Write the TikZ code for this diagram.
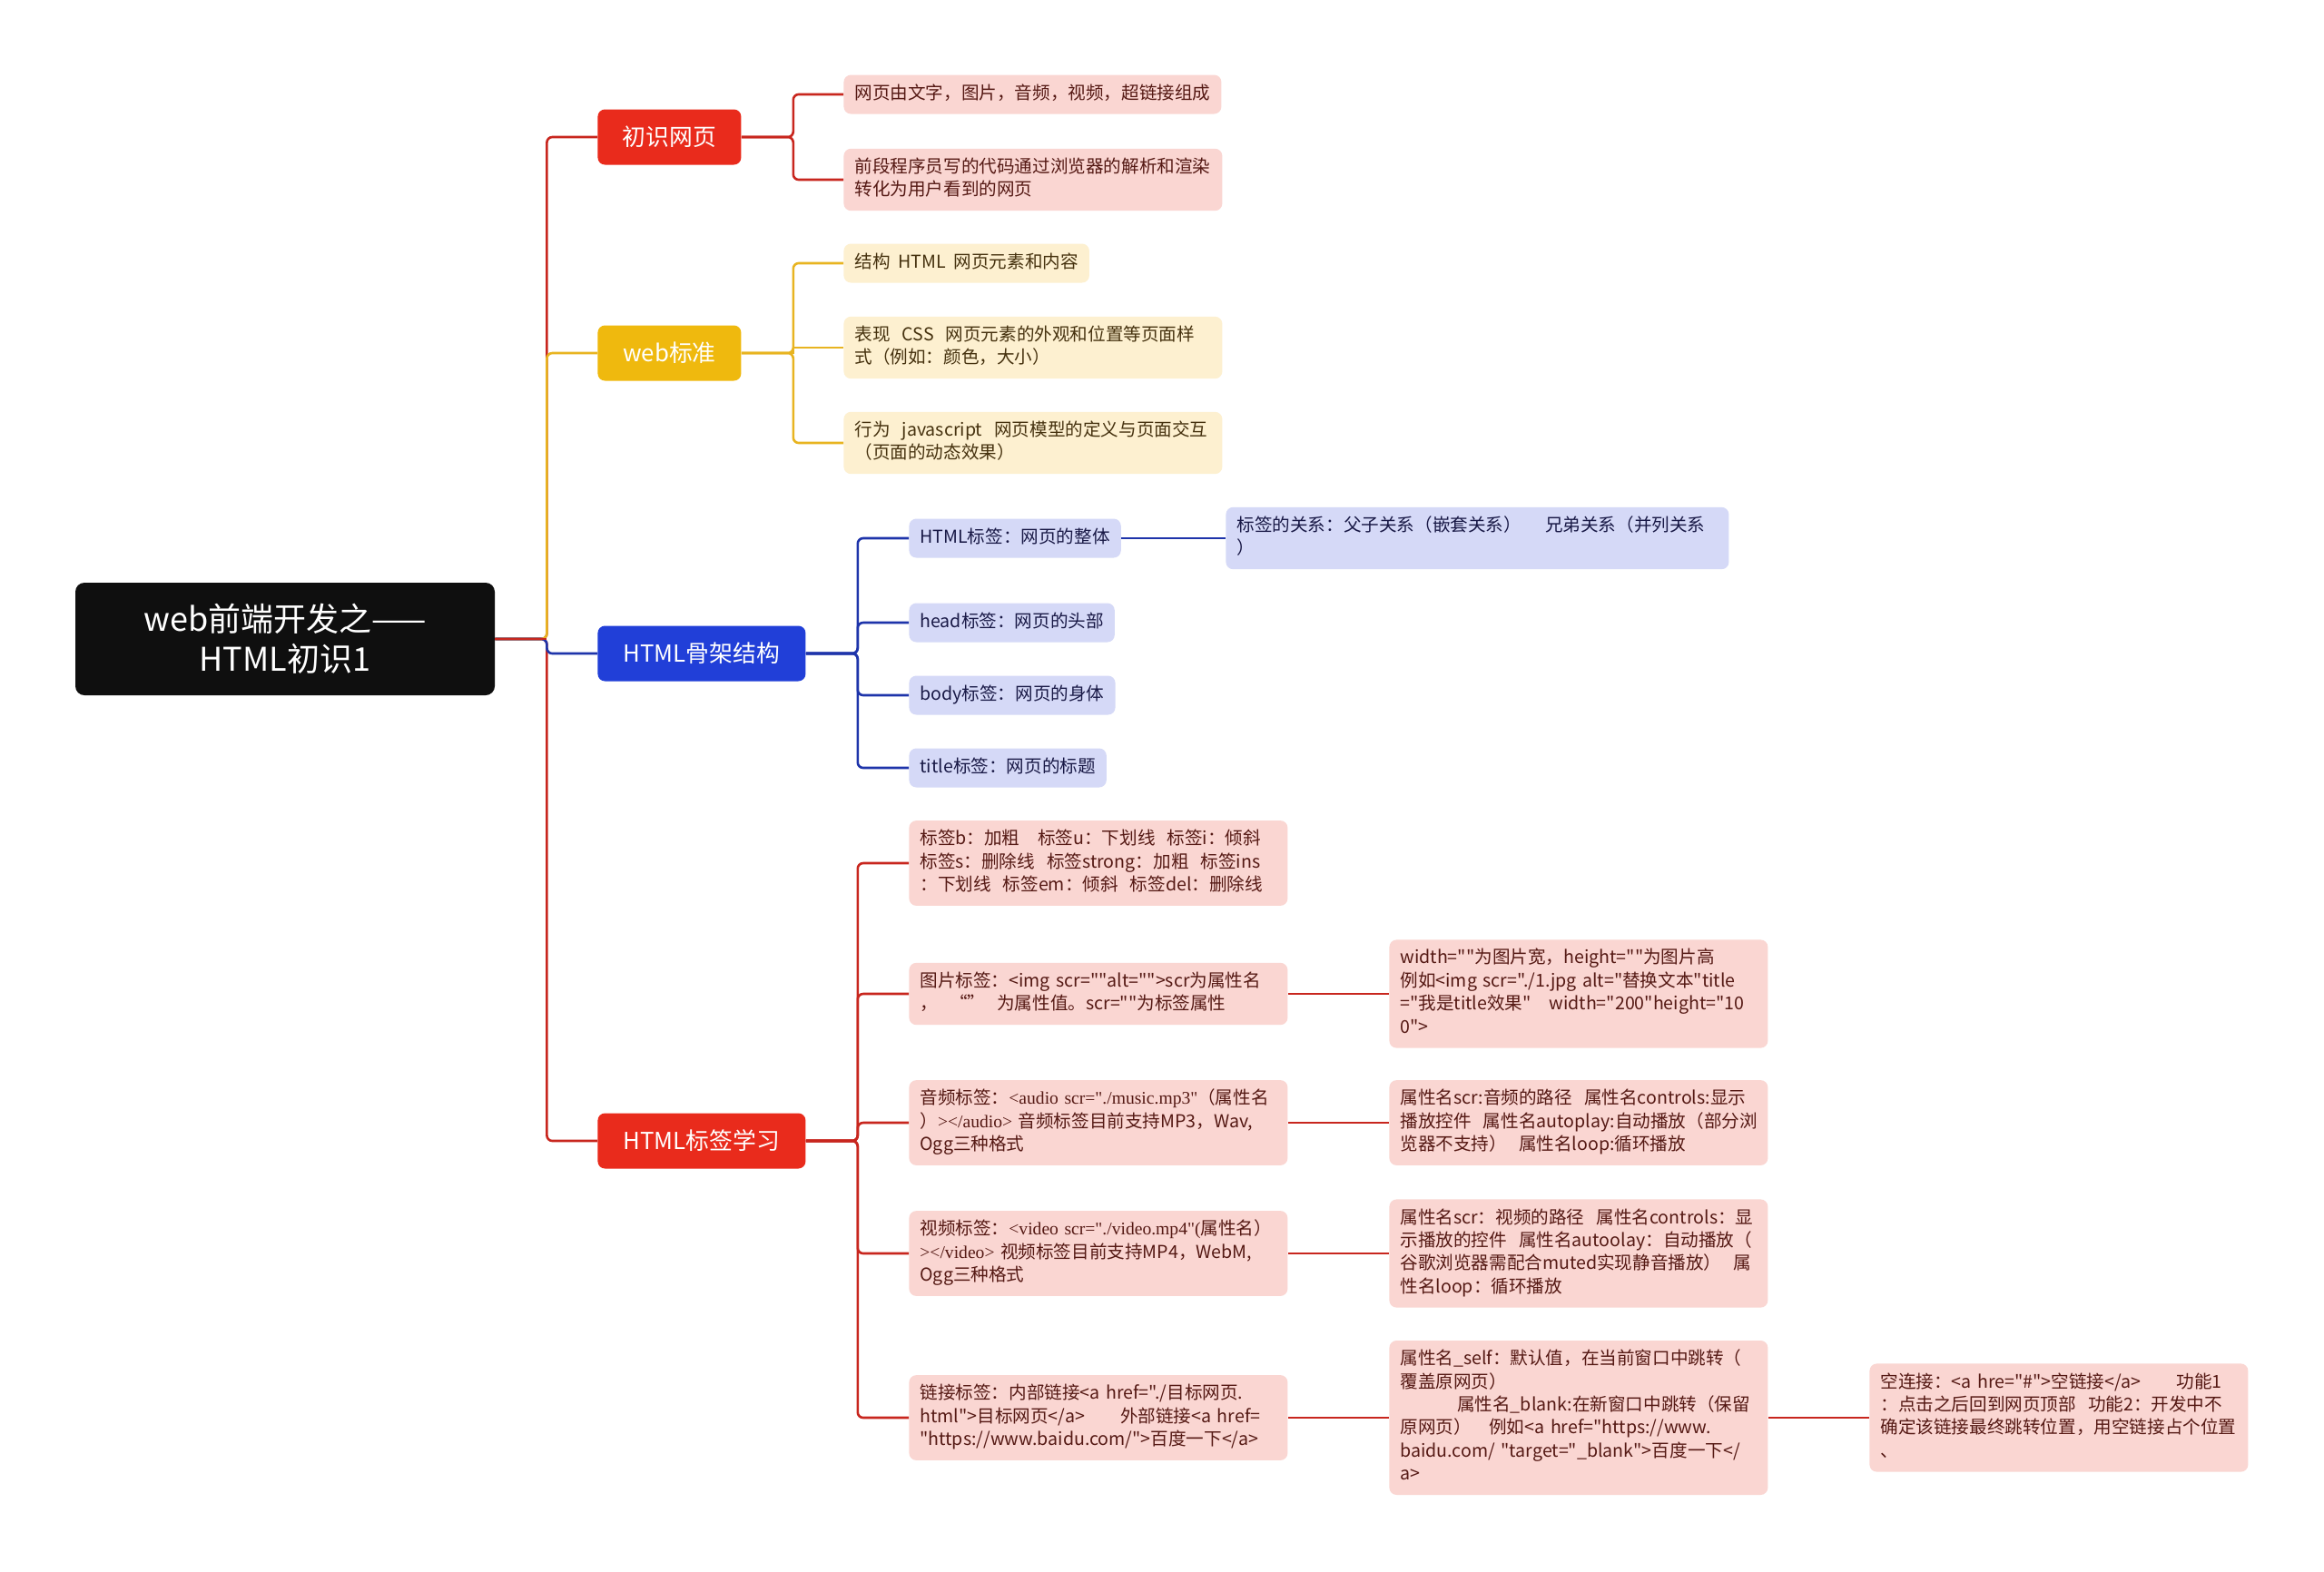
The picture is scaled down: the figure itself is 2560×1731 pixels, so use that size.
\documentclass[tikz,border=0pt]{standalone}
\usepackage{fontspec}
\setmainfont{Noto Sans CJK SC}[Ligatures=TeXOff]
\newfontfamily\timesfont{Liberation Serif}[Ligatures=TeXOff]
\usepackage{tikz}
\definecolor{rootblack}{RGB}{15,15,15}
\definecolor{topicred}{RGB}{233,43,28}
\definecolor{topicyellow}{RGB}{239,185,14}
\definecolor{topicblue}{RGB}{33,63,216}
\definecolor{linered}{RGB}{200,38,30}
\definecolor{lineyellow}{RGB}{232,180,32}
\definecolor{lineblue}{RGB}{30,52,170}
\definecolor{pinkfill}{RGB}{250,214,210}
\definecolor{creamfill}{RGB}{253,240,208}
\definecolor{lilacfill}{RGB}{213,217,247}
\definecolor{pinktext}{RGB}{85,25,20}
\definecolor{creamtext}{RGB}{70,50,15}
\definecolor{lilactext}{RGB}{25,25,70}

\begin{document}
\begin{tikzpicture}[x=0.5pt, y=-0.5pt,
    rootbox/.style={fill=rootblack, text=white, rounded corners=5pt, minimum width=231pt, minimum height=62pt, align=center, font=\fontsize{18pt}{22pt}\selectfont},
    topic/.style={fill=#1, text=white, rounded corners=4pt, anchor=west, minimum width=79pt, minimum height=30.5pt, font=\fontsize{12.9pt}{15pt}\selectfont},
    leaf/.style={fill=#1, rounded corners=4pt, anchor=west, inner xsep=6pt, inner ysep=4.4pt, align=left, font=\fontsize{9.8pt}{12.7pt}\selectfont, execute at begin node={\hyphenpenalty=10000\parindent=0pt\strut}, execute at end node={\strut}},
    pinkleaf/.style={leaf=pinkfill, text=pinktext},
    creamleaf/.style={leaf=creamfill, text=creamtext},
    lilacleaf/.style={leaf=lilacfill, text=lilactext},
    wrapbox/.style={text width=#1},
    wrapbox/.default=196.5pt,
    branch/.style={draw=#1, line width=1.3pt, rounded corners=3pt},
]
\fill[white] (0,0) rectangle (2560,1731);

\node[rootbox] (root) at (314,704) {web前端开发之——\\HTML初识1};

\node[topic=topicred] (intro) at (658,151) {初识网页};
\node[topic=topicyellow] (std) at (658,389) {web标准};
\node[topic=topicblue, minimum width=114.5pt] (frame) at (658,720) {HTML骨架结构};
\node[topic=topicred, minimum width=114.5pt] (tags) at (658,1257) {HTML标签学习};

\node[pinkleaf] (intro1) at (929,104) {网页由文字，图片，音频，视频，超链接组成};
\node[pinkleaf, wrapbox] (intro2) at (929,198) {前段程序员写的代码通过浏览器的解析和渲染\\转化为用户看到的网页};

\node[creamleaf] (std1) at (929,290) {结构~~HTML~~网页元素和内容};
\node[creamleaf, wrapbox] (std2) at (929,383) {表现~~CSS~~网页元素的外观和位置等页面样\\式（例如：颜色，大小）};
\node[creamleaf, wrapbox] (std3) at (929,488) {行为~~javascript~~网页模型的定义与页面交互\\（页面的动态效果）};

\node[lilacleaf] (html) at (1001,593) {HTML标签：网页的整体};
\node[lilacleaf, wrapbox=265pt] (nest) at (1350,593) {标签的关系：父子关系（嵌套关系）~~~~兄弟关系（并列关系\\）};
\node[lilacleaf] (head) at (1001,686) {head标签：网页的头部};
\node[lilacleaf] (body) at (1001,766) {body标签：网页的身体};
\node[lilacleaf] (title) at (1001,846) {title标签：网页的标题};

\node[pinkleaf, wrapbox] (fmt) at (1001,951) {标签b：加粗~~~标签u：下划线~~标签i：倾斜\\标签s：删除线~~标签strong：加粗~~标签ins\\：下划线~~标签em：倾斜~~标签del：删除线};
\node[pinkleaf, wrapbox] (img) at (1001,1095) {图片标签：<img~scr=""alt="">scr为属性名\\，~~“”~~为属性值。scr=""为标签属性};
\node[pinkleaf, wrapbox] (imgattr) at (1530,1095) {width=""为图片宽，height=""为图片高\\例如<img~scr="./1.jpg~alt="替换文本"title\\="我是title效果"~~~width="200"height="10\\0">};
\node[pinkleaf, wrapbox] (audio) at (1001,1237) {音频标签：{\timesfont <audio~scr="./music.mp3"}（属性名\\）{\timesfont ></audio>}~音频标签目前支持MP3，Wav,\\Ogg三种格式};
\node[pinkleaf, wrapbox] (audioattr) at (1530,1237) {属性名scr:音频的路径~~属性名controls:显示\\播放控件~~属性名autoplay:自动播放（部分浏\\览器不支持）~~属性名loop:循环播放};
\node[pinkleaf, wrapbox] (video) at (1001,1381) {视频标签：{\timesfont <video~scr="./video.mp4"(}属性名）\\{\timesfont ></video>}~视频标签目前支持MP4，WebM,\\Ogg三种格式};
\node[pinkleaf, wrapbox] (videoattr) at (1530,1381) {属性名scr：视频的路径~~属性名controls：显\\示播放的控件~~属性名autoolay：自动播放（\\谷歌浏览器需配合muted实现静音播放）~~属\\性名loop：循环播放};
\node[pinkleaf, wrapbox] (href) at (1001,1562) {链接标签：内部链接<a~href="./目标网页.\\html">目标网页</a>~~~~~~外部链接<a~href=\\"https://www.baidu.com/">百度一下</a>};
\node[pinkleaf, wrapbox] (target) at (1530,1562) {属性名\_self：默认值，在当前窗口中跳转（\\覆盖原网页）\\\hspace*{3.2em}属性名\_blank:在新窗口中跳转（保留\\原网页）~~~例如<a~href="https://www.\\baidu.com/~"target="\_blank">百度一下</\\a>};
\node[pinkleaf, wrapbox] (empty) at (2059,1562) {空连接：<a~hre="\#">空链接</a>~~~~~~功能1\\：点击之后回到网页顶部~~功能2：开发中不\\确定该链接最终跳转位置，用空链接占个位置\\、};

\draw[branch=linered] (root.east) -- ++(57,0) |- (intro.west);
\draw[branch=linered] (root.east) -- ++(57,0) |- (tags.west);
\draw[branch=lineyellow] (root.east) -- ++(57,0) |- (std.west);
\draw[branch=lineblue] (root.east) -- ++(57,0) |- (frame.west);
\draw[branch=linered] (root.east) -- ++(57,0);

\foreach \n in {intro1,intro2} \draw[branch=linered] (intro.east) -- ++(57,0) |- (\n.west);
\foreach \n in {std1,std3} \draw[branch=lineyellow] (std.east) -- ++(57,0) |- (\n.west);
\draw[branch=lineyellow, sharp corners] (std.east) -- ++(57,0) |- (std2.west);
\foreach \n in {html,head,body,title} \draw[branch=lineblue] (frame.east) -- ++(57,0) |- (\n.west);
\foreach \n in {fmt,img,audio,video,href} \draw[branch=linered] (tags.east) -- ++(57,0) |- (\n.west);

\draw[branch=lineblue] (html.east) -- (nest.west);
\foreach \a/\b in {img/imgattr,audio/audioattr,video/videoattr,href/target,target/empty}
  \draw[branch=linered] (\a.east) -- (\b.west);
\end{tikzpicture}
\end{document}
